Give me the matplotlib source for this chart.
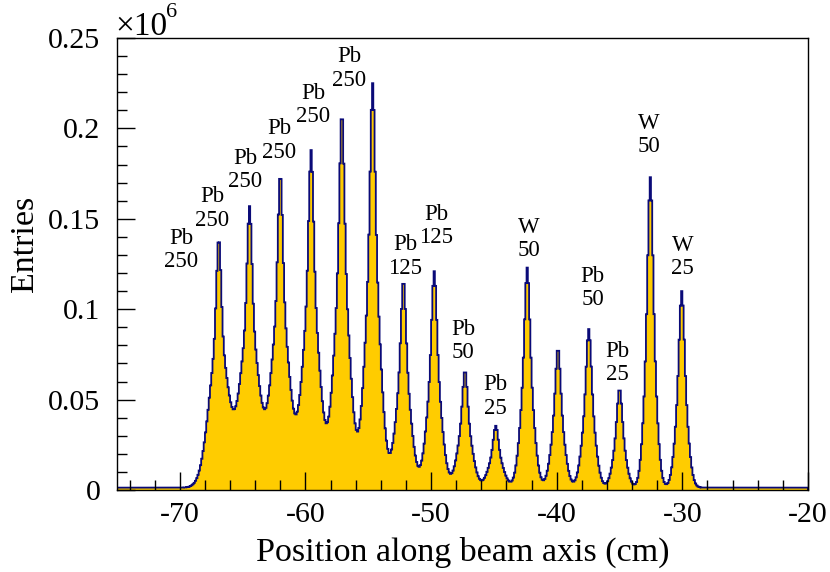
import numpy as np
import matplotlib
matplotlib.use('Agg')
import matplotlib.pyplot as plt
from matplotlib.ticker import MultipleLocator

plt.rcParams['font.family'] = ['Liberation Serif', 'DejaVu Serif']

# peaks (position in cm, top of peak in entries)
peak_pos = [-66.9, -64.45, -62.0, -59.55, -57.1, -54.65, -52.2, -49.75,
            -47.3, -44.85, -42.35, -39.9, -37.45, -35.0, -32.55, -30.05]
peak_height = [137000, 157000, 172000, 188000, 205000, 225000, 114000, 121000,
               65000, 35500, 123000, 77000, 89000, 55000, 173000, 110000]
# broad width of each peak (cm)
peak_sigma = [0.745, 0.72, 0.69, 0.65, 0.61, 0.58, 0.56, 0.535,
              0.535, 0.53, 0.474, 0.472, 0.467, 0.44, 0.41, 0.426]
core_share = 0.4
core_sigma = 0.18
baseline = 1300

label_text = ['Pb\n250', 'Pb\n250', 'Pb\n250', 'Pb\n250', 'Pb\n250', 'Pb\n250',
              'Pb\n125', 'Pb\n125', 'Pb\n50', 'Pb\n25', 'W\n50',
              'Pb\n50', 'Pb\n25', 'W\n50', 'W\n25']
label_x = [-69.9, -67.44, -64.8, -62.07, -59.36, -56.5, -52.08, -49.6,
           -47.44, -44.86, -42.2, -37.14, -35.18, -32.7, -30.0]
label_y = [0.1327, 0.1557, 0.177, 0.1933, 0.2129, 0.2332, 0.1291, 0.1461,
           0.0824, 0.0517, 0.1387, 0.1116, 0.0701, 0.1965, 0.1289]

# histogram binning
edges = np.arange(-75, -20 + 1e-9, 0.1)
centers = 0.5 * (edges[1:] + edges[:-1])


def shape(x, c, s):
    d = x - c
    return (core_share * np.exp(-0.5 * (d / core_sigma) ** 2)
            + (1 - core_share) * np.exp(-0.5 * (d / s) ** 2))


pars = list(zip(peak_pos, peak_sigma))
top_bins = [np.argmin(np.abs(centers - c)) for c in peak_pos]
A = np.array([[shape(centers[i], *p) for p in pars] for i in top_bins])
amps = np.linalg.solve(A, np.array(peak_height) - baseline)

counts = np.full_like(centers, baseline, dtype=float)
for a, p in zip(amps, pars):
    counts += a * shape(centers, *p)
counts = counts / 1e6

fig = plt.figure(figsize=(8.3, 5.72), dpi=100)
ax = fig.add_axes([117 / 830, 82 / 572, 691 / 830, 452 / 572])

ax.stairs(counts, edges, fill=True, color='#ffcc00', baseline=0)
ax.stairs(counts, edges, color='#0a0a78', linewidth=1.3, baseline=0)

ax.set_xlim(-75, -20)
ax.set_ylim(0, 0.25)
ax.xaxis.set_minor_locator(MultipleLocator(2))
ax.yaxis.set_minor_locator(MultipleLocator(0.01))
ax.set_yticks([0, 0.05, 0.1, 0.15, 0.2, 0.25])
ax.set_yticklabels(['0', '0.05', '0.1', '0.15', '0.2', '0.25'])
ax.set_xticks([-70, -60, -50, -40, -30, -20])
ax.set_xticklabels(['-70', '-60', '-50', '-40', '-30', '-20'])
ax.tick_params(which='both', direction='in', top=False, right=False,
               labelsize=21.5, width=1, color='black')
ax.tick_params(which='major', length=13)
ax.tick_params(which='minor', length=7)
ax.tick_params(axis='x', pad=9)
ax.tick_params(axis='y', pad=12)
for s in ax.spines.values():
    s.set_linewidth(1)

ax.set_xlabel('Position along beam axis (cm)', fontsize=24.5)
ax.set_ylabel('Entries', fontsize=24.5)
ax.xaxis.set_label_coords(0.5, -0.103)
ax.yaxis.set_label_coords(-0.111, 0.545)

# exponent of the y axis
fig.text(115 / 830, 1 - 35 / 572, '\u00d710', fontsize=24, ha='left', va='baseline')
fig.text(166 / 830, 1 - 17 / 572, '6', fontsize=16, ha='left', va='baseline')

for t, x, y in zip(label_text, label_x, label_y):
    ax.text(x, y, t, fontsize=16.5, ha='center', va='center', linespacing=1.15)

fig.savefig('out.png', dpi=100)
